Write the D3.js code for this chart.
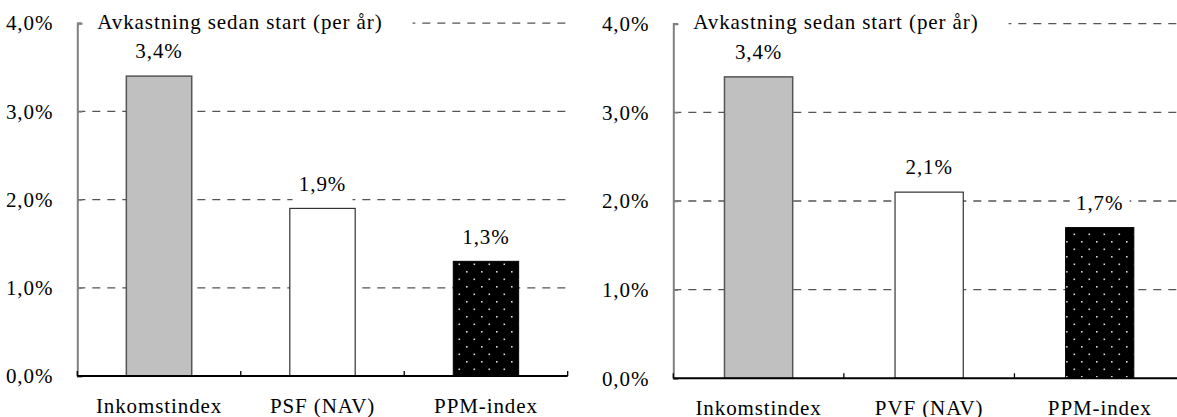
<!DOCTYPE html>
<html>
<head>
<meta charset="utf-8">
<script src="https://cdn.jsdelivr.net/npm/d3@7"></script>
<style>
  html, body { margin: 0; padding: 0; background: #fff; }
  svg { display: block; }
  svg text { font-family: "Liberation Serif", "DejaVu Serif", serif !important; font-size: 21px; letter-spacing: 0.9px; fill: #000; }
</style>
</head>
<body>
<svg id="chart" width="1177" height="417"></svg>
<script>
// Annual returns since start, two panels
const categoriesLeft = ["Inkomstindex", "PSF (NAV)", "PPM-index"];
const valuesLeft = [3.4, 1.9, 1.3];

const categoriesRight = ["Inkomstindex", "PVF (NAV)", "PPM-index"];
const valuesRight = [3.4, 2.1, 1.7];

const yTicks = [0, 1, 2, 3, 4];
const panelTitle = "Avkastning sedan start (per år)";

const svg = d3.select("#chart");
const locale = d3.formatLocale({ decimal: ",", thousands: " ", grouping: [3], currency: ["", " kr"] });
const fmt = v => locale.format(".1f")(v) + "%";

// dotted fill for the third bar
const defs = svg.append("defs");
const pat = defs.append("pattern")
  .attr("id", "dots").attr("patternUnits", "userSpaceOnUse")
  .attr("width", 15).attr("height", 15);
pat.append("rect").attr("width", 15).attr("height", 15).attr("fill", "#000");
pat.append("rect").attr("x", 1).attr("y", 1).attr("width", 1.6).attr("height", 1.6).attr("fill", "#d8d8d8");
pat.append("rect").attr("x", 8.5).attr("y", 8.5).attr("width", 1.6).attr("height", 1.6).attr("fill", "#d8d8d8");

const barFill = ["#c0c0c0", "#ffffff", "url(#dots)"];
const barStroke = ["#555", "#333", "#000"];
const barStrokeW = [1.5, 1.2, 1];

function panel(cats, vals, x0, x1, yBottom, yTop) {
  const g = svg.append("g");
  const x = d3.scaleBand().domain(cats).range([x0, x1]).paddingInner(0.6).paddingOuter(0.3);
  const y = d3.scaleLinear().domain([0, 4]).range([yBottom, yTop]);
  const step = x.step();

  // dashed gridlines
  g.selectAll("line.grid").data(yTicks.filter(t => t > 0)).join("line")
    .attr("x1", x0).attr("x2", x1)
    .attr("y1", d => y(d)).attr("y2", d => y(d))
    .attr("stroke", "#555").attr("stroke-width", 1.3)
    .attr("stroke-dasharray", "8,7");

  // title with white backing over the top gridline
  const title = g.append("text")
    .attr("x", x0 + 20).attr("y", y(4) - 2)
    .attr("dy", "0.35em")
    .text(panelTitle);
  const tw = title.node().getComputedTextLength();
  g.insert("rect", "text")
    .attr("x", x0 + 4).attr("y", y(4) - 14)
    .attr("width", tw + 46).attr("height", 28)
    .attr("fill", "#fff");

  // bars
  g.selectAll("rect.bar").data(vals).join("rect")
    .attr("class", "bar")
    .attr("x", (d, i) => x(cats[i]))
    .attr("width", x.bandwidth())
    .attr("y", d => y(d))
    .attr("height", d => y(0) - y(d))
    .attr("fill", (d, i) => barFill[i])
    .attr("stroke", (d, i) => barStroke[i])
    .attr("stroke-width", (d, i) => barStrokeW[i]);

  // value labels
  const lab = g.selectAll("g.lab").data(vals).join("g")
    .attr("transform", (d, i) => `translate(${x(cats[i]) + x.bandwidth() / 2},${y(d) - 25})`);
  lab.append("rect")
    .attr("x", -30).attr("y", -17).attr("width", 60).attr("height", 35)
    .attr("fill", "#fff");
  lab.append("text")
    .attr("text-anchor", "middle").attr("dy", "0.35em")
    .text(d => fmt(d));

  // y axis
  const yAxis = d3.axisLeft(y).tickValues(yTicks).tickSize(-5).tickPadding(24)
    .tickFormat(d => fmt(d));
  const ya = g.append("g").attr("transform", `translate(${x0},0)`).call(yAxis);
  ya.attr("font-family", null).attr("font-size", null);
  ya.select(".domain").attr("stroke", "#808080").attr("stroke-width", 2);
  ya.selectAll(".tick line").attr("stroke", "#808080").attr("stroke-width", 1.5);
  ya.selectAll(".tick text").attr("fill", "#000");

  // x axis: baseline, separators between categories, labels
  const xa = g.append("g").attr("transform", `translate(0,${yBottom})`).call(d3.axisBottom(x).tickSize(0));
  xa.attr("font-family", null).attr("font-size", null);
  xa.select(".domain").attr("stroke", "#000").attr("stroke-width", 2).attr("d", `M${x0},0H${x1}`);
  xa.selectAll(".tick text").attr("fill", "#000").attr("y", 37).attr("dy", 0);
  g.selectAll("line.sep").data(d3.range(cats.length + 1)).join("line")
    .attr("x1", i => x0 + i * step).attr("x2", i => x0 + i * step)
    .attr("y1", yBottom).attr("y2", yBottom - 5)
    .attr("stroke", "#000").attr("stroke-width", 1.3);
}

panel(categoriesLeft, valuesLeft, 77.3, 567.7, 376, 23.2);
panel(categoriesRight, valuesRight, 673.3, 1185, 378.3, 23.7);
</script>
</body>
</html>
